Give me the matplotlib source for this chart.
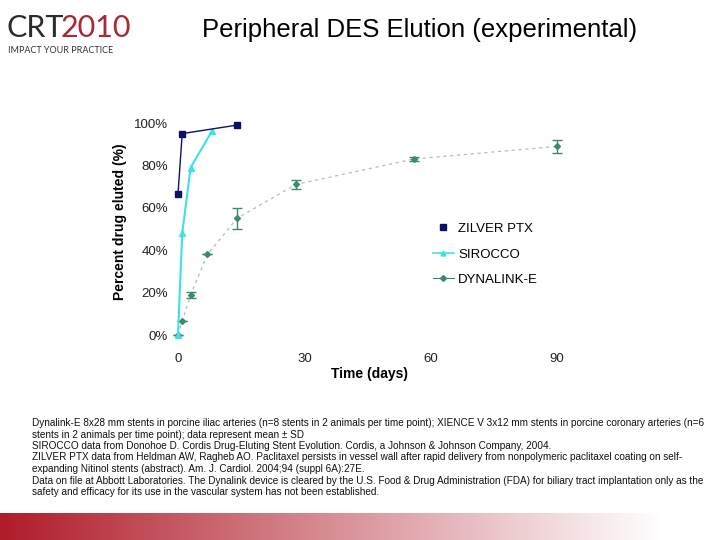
import matplotlib
matplotlib.use("Agg")
import numpy as np
from matplotlib import pyplot as plt
from matplotlib.lines import Line2D

plt.rcParams['font.family'] = ['Liberation Sans', 'DejaVu Sans']

# data (days, fraction eluted)
zilver_days = [0, 1, 14]
zilver_vals = [0.665, 0.95, 0.99]

sirocco_days = [0, 1, 3, 8]
sirocco_vals = [0.0, 0.48, 0.79, 0.96]

dyna_days = [0, 1, 3, 7, 14, 28, 56, 90]
dyna_vals = [0.0, 0.065, 0.19, 0.38, 0.55, 0.71, 0.83, 0.89]
dyna_sd = [0.0, 0.0, 0.015, 0.0, 0.05, 0.02, 0.01, 0.03]

yticks = [0, 0.2, 0.4, 0.6, 0.8, 1.0]
ytick_labels = ['0%', '20%', '40%', '60%', '80%', '100%']
xticks = [0, 30, 60, 90]

footnote = [
    "Dynalink-E 8x28 mm stents in porcine iliac arteries (n=8 stents in 2 animals per time point); XIENCE V 3x12 mm stents in porcine coronary arteries (n=6",
    "stents in 2 animals per time point); data represent mean \u00b1 SD",
    "SIROCCO data from Donohoe D. Cordis Drug-Eluting Stent Evolution. Cordis, a Johnson & Johnson Company, 2004.",
    "ZILVER PTX data from Heldman AW, Ragheb AO. Paclitaxel persists in vessel wall after rapid delivery from nonpolymeric paclitaxel coating on self-",
    "expanding Nitinol stents (abstract). Am. J. Cardiol. 2004;94 (suppl 6A):27E.",
    "Data on file at Abbott Laboratories. The Dynalink device is cleared by the U.S. Food & Drug Administration (FDA) for biliary tract implantation only as the",
    "safety and efficacy for its use in the vascular system has not been established.",
]

navy = '#0b1266'
cyan = '#3fe0e8'
green = '#3c8a6c'

W, H = 720, 540
fig = plt.figure(figsize=(7.2, 5.4), dpi=100)

def fx(px):
    return px / W

def fy(py):
    return 1 - py / H

# axes placed so that day 0 -> x=178px, day 90 -> 557px, 0% -> y=335px, 100% -> y=123px
ax_l, ax_r, ax_t, ax_b = 172, 600, 115, 340
ax = fig.add_axes([fx(ax_l), fy(ax_b), (ax_r - ax_l) / W, (ax_b - ax_t) / H])
px_per_day = (557 - 178) / 90
px_per_unit = (335 - 123) / 1.0
ax.set_xlim(-(178 - ax_l) / px_per_day, (ax_r - 178) / px_per_day)
ax.set_ylim(-(ax_b - 335) / px_per_unit, 1 + (123 - ax_t) / px_per_unit)

ax.plot(dyna_days, dyna_vals, color='#b3bcb8', lw=0.9, ls=(0, (2.5, 3)), zorder=1)
ax.errorbar(dyna_days, dyna_vals, yerr=dyna_sd, fmt='D', color=green, ms=3,
            ecolor=green, elinewidth=1, capsize=3.5, capthick=1, zorder=2)
ax.plot(sirocco_days, sirocco_vals, color=cyan, lw=1.5, marker='^', ms=4.5,
        mfc=cyan, mec=cyan, zorder=3)
ax.plot(zilver_days, zilver_vals, color=navy, lw=1.0, marker='s', ms=5,
        mfc=navy, mec=navy, zorder=4)

for s in ax.spines.values():
    s.set_visible(False)
ax.set_yticks(yticks)
ax.set_yticklabels(ytick_labels)
ax.set_xticks(xticks)
ax.tick_params(axis='both', length=0, labelsize=9.5, colors='#222222')
ax.tick_params(axis='y', pad=3)
ax.tick_params(axis='x', pad=9)

fig.text(fx(120), fy(222), 'Percent drug eluted (%)', rotation=90, ha='center',
         va='center', fontsize=10, fontweight='bold')
fig.text(fx(370), fy(374), 'Time (days)', ha='center', va='center',
         fontsize=10, fontweight='bold')

handles = [
    Line2D([], [], ls='none', marker='s', ms=4, color=navy),
    Line2D([], [], color=cyan, lw=1.2, marker='^', ms=3.5),
    Line2D([], [], color=green, lw=0.8, marker='D', ms=3),
]
fig.legend(handles, ['ZILVER PTX', 'SIROCCO', 'DYNALINK-E'], loc='upper left',
           bbox_to_anchor=(fx(421), fy(211)), frameon=False, fontsize=9.5,
           handlelength=1.6, handletextpad=0.3, labelspacing=1.0)

fig.text(fx(420), fy(30), 'Peripheral DES Elution (experimental)', ha='center',
         va='center', fontsize=18.5)

# logo
logo_font = ['Lato', 'Liberation Sans']
fig.text(fx(6), fy(37), 'CRT', fontsize=22, color='#2b2b2b', va='baseline',
         family=logo_font)
fig.text(fx(61), fy(37), '2010', fontsize=22, color='#a52a35', va='baseline',
         family=logo_font)
fig.text(fx(8), fy(53), 'IMPACT YOUR PRACTICE', fontsize=6.5, color='#333333',
         va='baseline', family=logo_font)

for i, line in enumerate(footnote):
    fig.text(fx(32), fy(423 + i * 11.5), line, fontsize=7.2, va='center',
             ha='left', color='#111111')

# bottom gradient band
grad = np.linspace(0, 1, 256)
cols = np.zeros((1, 256, 3))
start = np.array([0xb0, 0x1c, 0x2a]) / 255
for k, g in enumerate(grad):
    t = min(g / 0.92, 1.0)
    cols[0, k] = start * (1 - t) + np.ones(3) * t
band = fig.add_axes([0, 0, 1, 27 / H])
band.imshow(cols, aspect='auto', extent=[0, 1, 0, 1])
band.axis('off')

fig.savefig('out.png', dpi=100)
